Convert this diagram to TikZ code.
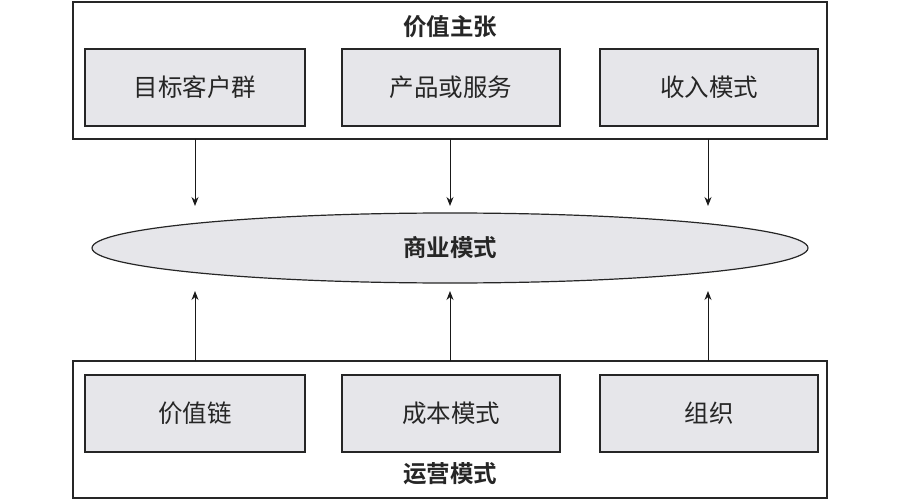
\documentclass[tikz,border=0pt]{standalone}
\usepackage{fontspec}
\newfontfamily\cjk{Noto Sans CJK SC}
\newfontfamily\cjkb{Noto Sans CJK SC Bold}
\usetikzlibrary{shapes.geometric,arrows.meta}
\definecolor{boxfill}{HTML}{E6E6EA}
\tikzset{
  outer/.style={draw=black!85, line width=1.2pt, fill=white},
  inner/.style={draw=black!85, line width=1.2pt, fill=boxfill, font=\fontsize{24.5}{28}\selectfont\cjk, text=black!85},
  title/.style={font=\fontsize{23.5}{27}\selectfont\cjkb, text=black!85},
  arr/.style={-{Stealth[length=9pt,width=7pt]}, line width=1pt, draw=black!90}
}
\begin{document}
\begin{tikzpicture}[x=1pt,y=-1pt]
\useasboundingbox (0,0) rectangle (900,500);
% top group
\draw[outer] (73,2) rectangle (827,139);
\node[title] (vp) at (450,27) {价值主张};
\node[inner, minimum width=220pt, minimum height=77pt] (a1) at (195,87.5) {目标客户群};
\node[inner, minimum width=218pt, minimum height=77pt] (a2) at (451,87.5) {产品或服务};
\node[inner, minimum width=218pt, minimum height=77pt] (a3) at (709,87.5) {收入模式};
% ellipse
\node[ellipse, draw=black!85, line width=1.2pt, fill=boxfill, minimum width=716pt, minimum height=70pt, inner sep=0pt, title] (bm) at (450,248) {商业模式};
% bottom group
\draw[outer] (73,361) rectangle (827,498);
\node[title] (op) at (450,474) {运营模式};
\node[inner, minimum width=220pt, minimum height=77pt] (b1) at (195,413.5) {价值链};
\node[inner, minimum width=218pt, minimum height=77pt] (b2) at (451,413.5) {成本模式};
\node[inner, minimum width=218pt, minimum height=77pt] (b3) at (709,413.5) {组织};
% top arrows
\coordinate (t1s) at (195,139); \coordinate (t1e) at (195,206);
\coordinate (t2s) at (450,139); \coordinate (t2e) at (450,206);
\coordinate (t3s) at (708,139); \coordinate (t3e) at (708,206);
\draw[arr] (t1s) -- (t1e);
\draw[arr] (t2s) -- (t2e);
\draw[arr] (t3s) -- (t3e);
% bottom arrows
\coordinate (u1s) at (195,361); \coordinate (u1e) at (195,291);
\coordinate (u2s) at (450,361); \coordinate (u2e) at (450,291);
\coordinate (u3s) at (708,361); \coordinate (u3e) at (708,291);
\draw[arr] (u1s) -- (u1e);
\draw[arr] (u2s) -- (u2e);
\draw[arr] (u3s) -- (u3e);
\end{tikzpicture}
\end{document}
